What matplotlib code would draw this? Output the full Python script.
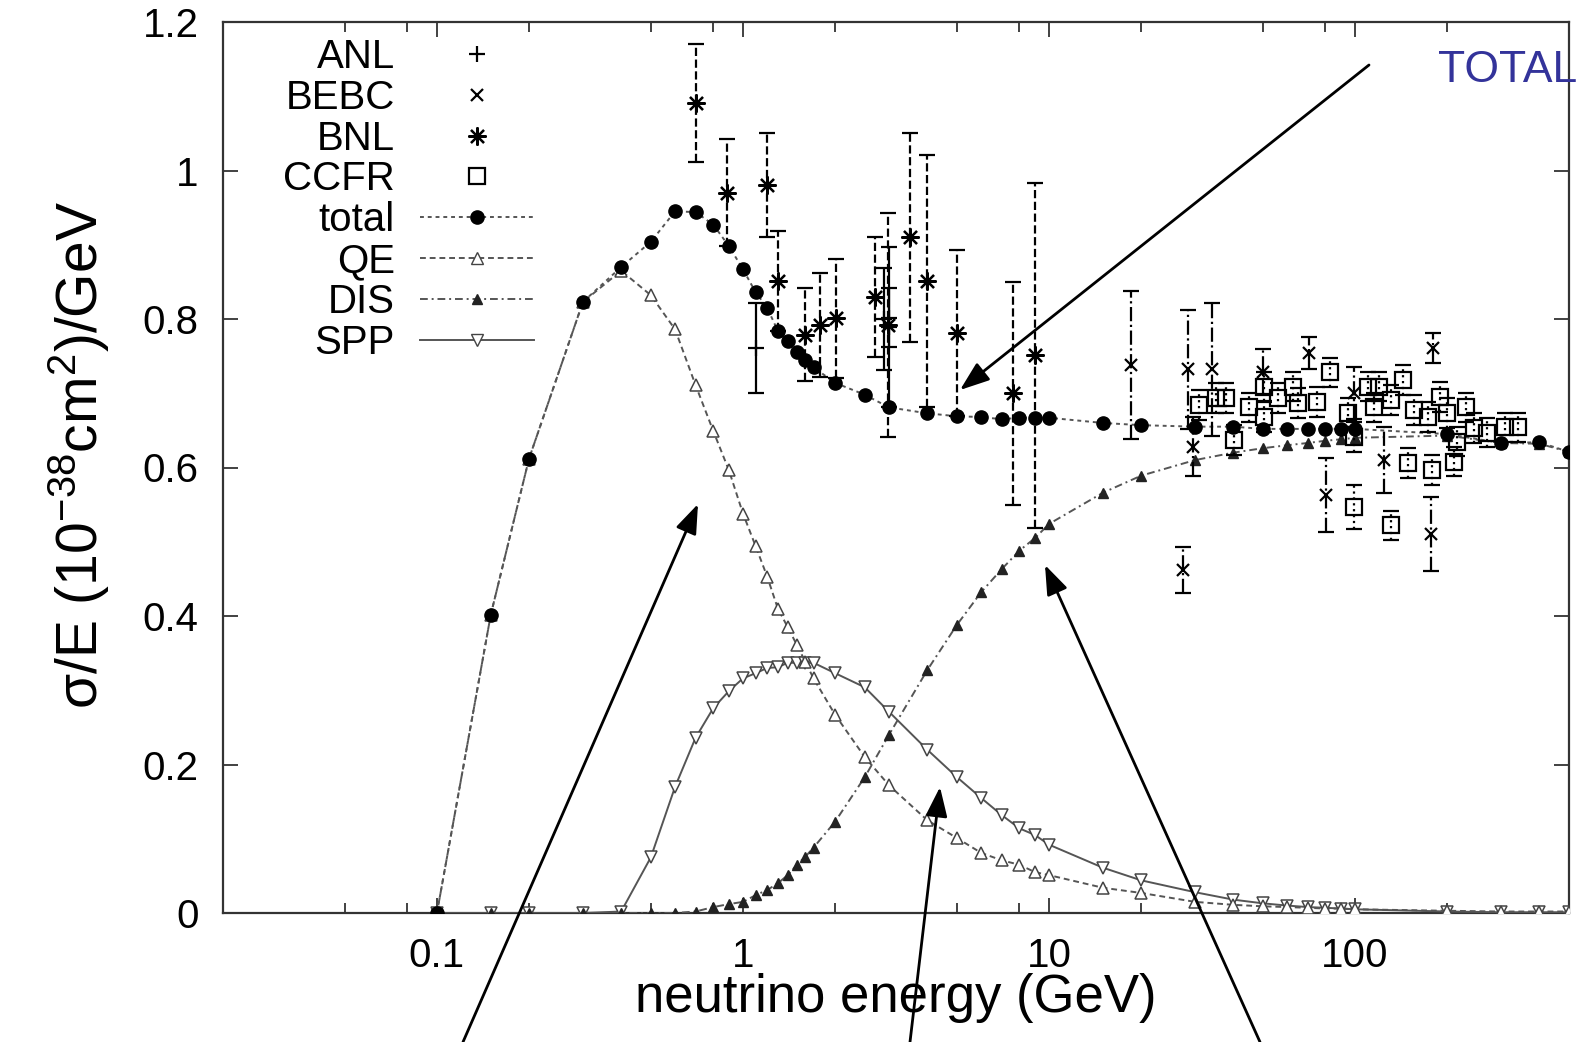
import matplotlib
matplotlib.use("Agg")
import matplotlib.pyplot as plt
from matplotlib.lines import Line2D
from matplotlib.ticker import LogLocator, NullFormatter

plt.rcParams['font.family'] = ['Liberation Sans', 'DejaVu Sans']
plt.rcParams['mathtext.fontset'] = 'custom'
plt.rcParams['mathtext.rm'] = 'Liberation Sans'
plt.rcParams['mathtext.default'] = 'regular'

# theory curves (common energy grid, GeV)
energy = [0.1, 0.15, 0.2, 0.3, 0.4, 0.5, 0.6, 0.7, 0.8, 0.9,
          1.0, 1.1, 1.2, 1.3, 1.4, 1.5, 1.6, 1.7, 2.0, 2.5,
          3.0, 4.0, 5.0, 6.0, 7.0, 8.0, 9.0, 10, 15, 20,
          30, 40, 50, 60, 70, 80, 90, 100, 200, 300, 400, 500]
total = [0.0, 0.402, 0.612, 0.823, 0.870, 0.904, 0.945, 0.944, 0.927, 0.898,
         0.867, 0.836, 0.815, 0.784, 0.770, 0.756, 0.745, 0.735, 0.714, 0.698,
         0.681, 0.673, 0.669, 0.668, 0.665, 0.667, 0.667, 0.667, 0.660, 0.657,
         0.655, 0.655, 0.652, 0.652, 0.652, 0.652, 0.652, 0.652, 0.645, 0.633, 0.634, 0.621]
qe = [0.0, 0.402, 0.612, 0.823, 0.865, 0.832, 0.786, 0.711, 0.649, 0.596,
      0.538, 0.494, 0.453, 0.410, 0.385, 0.361, 0.338, 0.316, 0.267, 0.210,
      0.172, 0.125, 0.101, 0.081, 0.071, 0.065, 0.055, 0.051, 0.034, 0.027,
      0.015, 0.011, 0.009, 0.008, 0.007, 0.006, 0.006, 0.005, 0.003, 0.002, 0.002, 0.002]
dis = [0.0, 0.0, 0.0, 0.0, 0.0, 0.0, 0.0, 0.002, 0.008, 0.012,
       0.015, 0.024, 0.031, 0.040, 0.051, 0.065, 0.076, 0.088, 0.123, 0.183,
       0.240, 0.327, 0.388, 0.432, 0.463, 0.488, 0.505, 0.524, 0.566, 0.589,
       0.610, 0.620, 0.626, 0.630, 0.633, 0.636, 0.638, 0.640, 0.643, 0.633, 0.632, 0.621]
spp = [0.0, 0.0, 0.0, 0.0, 0.002, 0.075, 0.170, 0.236, 0.276, 0.299,
       0.316, 0.323, 0.330, 0.331, 0.337, 0.337, 0.337, 0.337, 0.323, 0.304,
       0.271, 0.220, 0.183, 0.155, 0.132, 0.114, 0.105, 0.092, 0.061, 0.044,
       0.028, 0.018, 0.013, 0.010, 0.008, 0.007, 0.006, 0.005, 0.002, 0.001, 0.001, 0.001]

# measurements
anl_e = [1.1, 2.9, 3.0, 3.0]
anl_y = [0.761, 0.800, 0.802, 0.789]
anl_err = [0.06, 0.069, 0.04, 0.108]

bebc_e = [18.5, 27.5, 28.4, 29.6, 34.2, 50, 70.8, 80.3, 99, 124, 177, 180]
bebc_y = [0.738, 0.462, 0.732, 0.628, 0.732, 0.729, 0.754, 0.563, 0.700, 0.610, 0.510, 0.761]
bebc_err = [0.100, 0.031, 0.080, 0.040, 0.089, 0.030, 0.022, 0.050, 0.035, 0.045, 0.050, 0.020]

bnl_e = [0.70, 0.89, 1.20, 1.30, 1.60, 1.79, 2.01, 2.70, 2.98, 3.52, 4.00, 5.02, 7.6, 9.0]
bnl_y = [1.091, 0.970, 0.981, 0.851, 0.779, 0.792, 0.801, 0.830, 0.792, 0.910, 0.851, 0.781, 0.700, 0.751]
bnl_err = [0.080, 0.072, 0.070, 0.067, 0.063, 0.070, 0.080, 0.081, 0.151, 0.141, 0.170, 0.112, 0.150, 0.232]

ccfr_e = [30.9, 35, 38, 40.1, 44.9, 50.4, 50.4, 56, 62.5, 65, 75, 83, 95, 99, 99, 110, 115,
          120, 131, 131, 143, 149, 156, 173, 178, 190, 200, 210, 215, 230, 245, 270, 310, 340]
ccfr_y = [0.684, 0.694, 0.694, 0.637, 0.681, 0.709, 0.668, 0.694, 0.709, 0.687, 0.688, 0.728,
          0.673, 0.641, 0.547, 0.709, 0.681, 0.709, 0.691, 0.522, 0.718, 0.606, 0.677, 0.668,
          0.597, 0.695, 0.673, 0.608, 0.635, 0.681, 0.653, 0.647, 0.654, 0.654]
ccfr_err = [0.02, 0.02, 0.02, 0.02, 0.02, 0.02, 0.02, 0.02, 0.02, 0.02, 0.02, 0.02,
            0.02, 0.02, 0.03, 0.02, 0.02, 0.02, 0.02, 0.02, 0.02, 0.02, 0.02, 0.02,
            0.02, 0.02, 0.02, 0.02, 0.02, 0.02, 0.02, 0.02, 0.02, 0.02]

xticks = [0.1, 1, 10, 100]
xtick_labels = ["0.1", "1", "10", "100"]
yticks = [0, 0.2, 0.4, 0.6, 0.8, 1.0, 1.2]
ytick_labels = ["0", "0.2", "0.4", "0.6", "0.8", "1", "1.2"]

W, H = 1580, 1042
L, R, T, B = 223, 1569, 22, 913
fig = plt.figure(figsize=(W / 100, H / 100), dpi=100)
ax = fig.add_axes([L / W, 1 - B / H, (R - L) / W, (B - T) / H])

line_col = '#555555'
mk_col = '#222222'

# curves
ax.plot(energy, spp, color=line_col, lw=1.4, ls='-', marker='v', ms=8,
        mfc='white', mec='#444444', mew=1.1, zorder=3)
ax.plot(energy, dis, color=line_col, lw=1.4, ls=(0, (4, 2, 1, 2)), marker='^', ms=6.5,
        mfc=mk_col, mec=mk_col, zorder=3)
ax.plot(energy, qe, color=line_col, lw=1.4, ls=(0, (3, 2)), marker='^', ms=8,
        mfc='white', mec='#444444', mew=1.1, zorder=3)
ax.plot(energy, total, color=line_col, lw=1.4, ls=(0, (2, 2)), marker='o', ms=9.5,
        mfc='black', mec='black', zorder=4)

# data with error bars
def data_series(x, y, err, marker, ms, ls):
    eb = ax.errorbar(x, y, yerr=err, fmt='none', ecolor='black', elinewidth=1.6,
                     capsize=6, capthick=1.6, zorder=5)
    eb.lines[2][0].set_linestyle(ls)
    ax.plot(x, y, ls='none', marker=marker, ms=ms, mfc='none', mec='black', mew=1.6, zorder=6)
    return eb

data_series(anl_e, anl_y, anl_err, '+', 11, '-')
data_series(bebc_e, bebc_y, bebc_err, 'x', 9, '-.')
data_series(bnl_e, bnl_y, bnl_err, (8, 2, 0), 13, '--')
data_series(ccfr_e, ccfr_y, ccfr_err, 's', 11, ':')

ax.set_xscale('log')
ax.set_xlim(0.02, 500)
ax.set_ylim(0, 1.2)
ax.set_xticks(xticks, labels=xtick_labels)
ax.set_yticks(yticks, labels=ytick_labels)
ax.xaxis.set_minor_locator(LogLocator(base=10, subs=[2, 5, 8]))
ax.xaxis.set_minor_formatter(NullFormatter())
ax.tick_params(which='both', direction='in', top=True, right=True, labelsize=29,
               width=1.3, color='#333333')
ax.tick_params(which='major', length=11, pad=17.5)
ax.tick_params(which='minor', length=7)
for s in ax.spines.values():
    s.set_linewidth(1.6)
    s.set_color('#333333')

ax.set_xlabel('neutrino energy (GeV)', fontsize=38, va='top')
ax.xaxis.set_label_coords(0.5, -(973 - B) / (B - T))
ax.set_ylabel(r'σ/E (10$^{-38}$cm$^2$)/GeV', fontsize=41)
ax.yaxis.set_label_coords(-(L - 112) / (R - L), (B - 455) / (B - T))

# legend in gnuplot style: label on the left, sample on the right
handles = [
    Line2D([], [], ls='none', marker='+', ms=11, mec='black', mew=1.6),
    Line2D([], [], ls='none', marker='x', ms=9, mec='black', mew=1.6),
    Line2D([], [], ls='none', marker=(8, 2, 0), ms=13, mec='black', mew=1.6),
    Line2D([], [], ls='none', marker='s', ms=11, mfc='none', mec='black', mew=1.6),
    Line2D([], [], color=line_col, lw=1.4, ls=(0, (2, 2)), marker='o', ms=9.5, mfc='black', mec='black'),
    Line2D([], [], color=line_col, lw=1.4, ls=(0, (3, 2)), marker='^', ms=8, mfc='white', mec='#444444'),
    Line2D([], [], color=line_col, lw=1.4, ls=(0, (4, 2, 1, 2)), marker='^', ms=6.5, mfc=mk_col, mec=mk_col),
    Line2D([], [], color=line_col, lw=1.4, ls='-', marker='v', ms=8, mfc='white', mec='#444444'),
]
labels = ['ANL', 'BEBC', 'BNL', 'CCFR', 'total', 'QE', 'DIS', 'SPP']
ax.legend(handles, labels, loc='upper right',
          bbox_to_anchor=((534 - L) / (R - L), 1 - (38 - T) / (B - T)),
          frameon=False, markerfirst=False, numpoints=1, fontsize=29, borderpad=0,
          borderaxespad=0, handlelength=2.83, handletextpad=0.62, labelspacing=0.07)

# annotation arrows and label
def fig_xy(px, py):
    return (px / W, 1 - py / H)

arrows = [((1369, 65), (960, 390)), ((463, 1042), (698, 504)),
          ((910, 1042), (940, 787)), ((1260, 1042), (1045, 565))]
for tail, head in arrows:
    ax.annotate('', xy=fig_xy(*head), xytext=fig_xy(*tail), xycoords='figure fraction',
                textcoords='figure fraction', annotation_clip=False,
                arrowprops=dict(arrowstyle='-|>,head_length=0.6,head_width=0.22',
                                color='black', lw=2, mutation_scale=30,
                                shrinkA=0, shrinkB=0), zorder=10)

fig.text(1438 / W, 1 - 82 / H, 'TOTAL', color='#33339a', fontsize=32, ha='left', va='baseline')

fig.savefig('out.png', dpi=100)
